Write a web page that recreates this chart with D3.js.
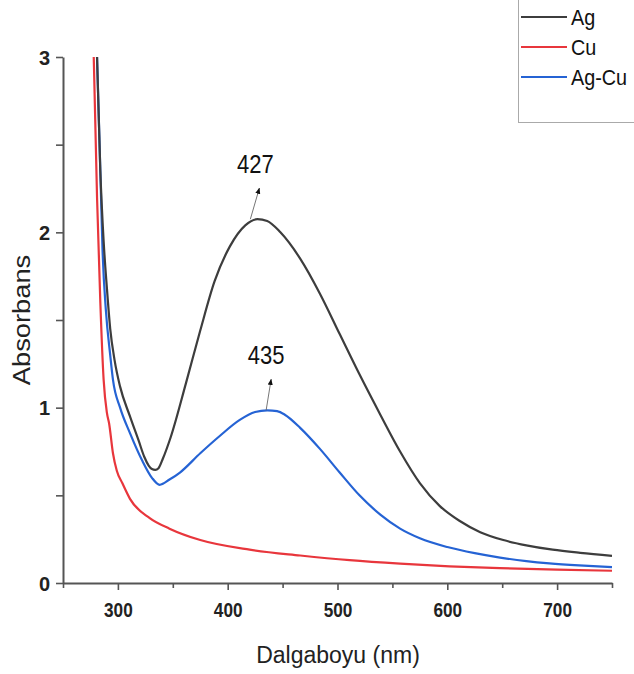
<!DOCTYPE html>
<html><head><meta charset="utf-8">
<script src="https://cdn.jsdelivr.net/npm/d3@7"></script>
<style>body{margin:0;background:#fff;} svg{display:block;font-family:"Liberation Sans",Arial,sans-serif;}</style>
</head><body>
<svg id="chart" width="634" height="674"></svg>
<script>
// ---- data ----
const seriesNames = ["Ag", "Cu", "Ag-Cu"];
const agNm  = [281,284,287,290,293,297,302,311,319,324,328,331,334,337,341,348,362,375,388,402,416,427,436,448,466,484,502,520,539,557,575,593,611,630,651,672,696,721,750];
const agAbs = [3.0,2.35,1.95,1.68,1.45,1.27,1.12,0.95,0.81,0.72,0.67,0.65,0.645,0.655,0.71,0.83,1.14,1.44,1.72,1.92,2.04,2.075,2.065,2.0,1.85,1.65,1.42,1.19,0.96,0.75,0.57,0.44,0.355,0.29,0.245,0.215,0.19,0.172,0.155];
const cuNm  = [278,281,284,287,290,292,295.5,299,304,311,329,347,375,420,466,511,557,602,648,700,750];
const cuAbs = [3.0,2.2,1.6,1.16,0.97,0.91,0.74,0.64,0.57,0.48,0.37,0.31,0.245,0.19,0.157,0.13,0.11,0.095,0.085,0.076,0.07];
const agcuNm  = [281,284,286,289,293,295.5,302,311,322,331,338,347,356.5,375,393,411,425,436,445,452,466,484,502,520,539,557,575,600,625,648,672,693,720,750];
const agcuAbs = [3.0,2.35,1.9,1.56,1.3,1.16,1.0,0.855,0.70,0.6,0.56,0.59,0.63,0.74,0.84,0.93,0.975,0.985,0.98,0.96,0.885,0.765,0.63,0.50,0.39,0.31,0.255,0.205,0.17,0.145,0.125,0.112,0.10,0.09];
const xTicks = [300,400,500,600,700];
const yTicks = [0,1,2,3];
const peaks = [{label:"427", nm:427, abs:2.075}, {label:"435", nm:435, abs:0.985}];
const colors = ["#3d3d3d", "#e8363c", "#2563d4"];

// ---- chart ----
const svg = d3.select("#chart");
const x = d3.scaleLinear().domain([250,750]).range([63,612]);
const y = d3.scaleLinear().domain([0,3]).range([583,57]);
const axisColor = "#555";

// axes
const xa = svg.append("g").attr("transform","translate(0,583)")
  .call(d3.axisBottom(x).tickValues(d3.range(250,751,50)).tickSize(7).tickSizeOuter(0)
    .tickFormat(d => xTicks.includes(d) ? d : ""));
xa.selectAll(".tick line").attr("y2", d => xTicks.includes(d) ? 7 : 5);
const ya = svg.append("g").attr("transform","translate(63,0)")
  .call(d3.axisLeft(y).tickValues(d3.range(0,3.01,0.5)).tickSize(7).tickSizeOuter(0)
    .tickFormat(d => yTicks.includes(d) ? d : ""));
[xa, ya].forEach(g => {
  g.select(".domain").attr("stroke", axisColor).attr("stroke-width", 2);
  g.selectAll(".tick line").attr("stroke", axisColor).attr("stroke-width", 1.6);
  g.selectAll(".tick text").attr("fill","#222").attr("font-size",20).attr("font-weight","bold")
    .attr("font-family","'Liberation Sans',Arial,sans-serif");
});
xa.selectAll(".tick text").attr("dy","1.2em").attr("transform","scale(0.86,1)");
ya.selectAll(".tick text").attr("x",-13).attr("dy","0.36em");

// titles
svg.append("text").attr("x",338).attr("y",663).attr("text-anchor","middle")
  .attr("font-size",23).attr("fill","#222").text("Dalgaboyu (nm)");
svg.append("text").attr("transform","translate(30,320) rotate(-90) scale(1.05,0.9)").attr("text-anchor","middle")
  .attr("font-size",26).attr("fill","#222").text("Absorbans");

// lines
const line = d3.line().x(d => x(d[0])).y(d => y(d[1])).curve(d3.curveMonotoneX);
const data = [
  d3.zip(agNm, agAbs),
  d3.zip(cuNm, cuAbs),
  d3.zip(agcuNm, agcuAbs)
];
[1,2,0].forEach(i => {
  svg.append("path").datum(data[i]).attr("d", line).attr("fill","none")
    .attr("stroke", colors[i]).attr("stroke-width", 2.2);
});

// peak annotations
const defs = svg.append("defs");
defs.append("marker").attr("id","arr").attr("viewBox","0 0 10 10").attr("refX",9).attr("refY",5)
  .attr("markerWidth",7).attr("markerHeight",9).attr("orient","auto")
  .append("path").attr("d","M0,1 L10,5 L0,9 Z").attr("fill","#111");
peaks.forEach((p,i) => {
  const x0 = x(p.nm), y0 = y(p.abs);
  svg.append("line").attr("x1", x0 - (i===0?7:0)).attr("y1", y0).attr("x2", x0 + (i===0?2:5)).attr("y2", y0 - 31)
    .attr("stroke","#666").attr("stroke-width",0.9).attr("marker-end","url(#arr)");
  svg.append("text").attr("transform", `translate(${x0 - (i===0?2:0)},${y0 - 46}) scale(0.88,1)`)
    .attr("text-anchor","middle").attr("font-size",25).attr("fill","#111").text(p.label);
});

// legend
const lg = svg.append("g");
lg.append("rect").attr("x",518.5).attr("y",-2).attr("width",130).attr("height",124.5)
  .attr("fill","#fff").attr("stroke","#aaa").attr("stroke-width",1);
seriesNames.forEach((n,i) => {
  const yy = 17 + i*30;
  lg.append("line").attr("x1",521).attr("x2",567).attr("y1",yy).attr("y2",yy)
    .attr("stroke",colors[i]).attr("stroke-width",2.2);
  lg.append("text").attr("transform",`translate(571,${yy+8}) scale(0.9,1)`)
    .attr("font-size",22).attr("fill","#111").text(n);
});
</script>
</body></html>
